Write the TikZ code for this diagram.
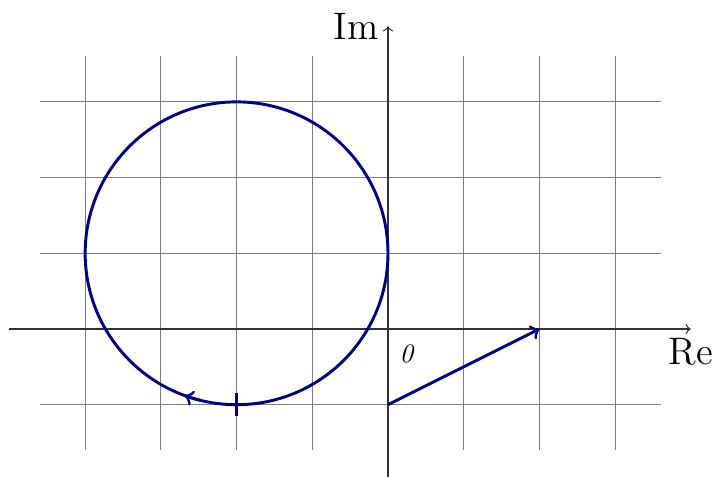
\documentclass[tikz,border=0pt]{standalone}
\usetikzlibrary{arrows}
\definecolor{navyc}{RGB}{0,0,128}
\begin{document}
\begin{tikzpicture}[
  gridline/.style={gray, line width=0.4pt},
  axisline/.style={->, line width=0.5pt, black!80},
  curve/.style={navyc, line width=1.1pt},
  lbl/.style={font=\Large, inner sep=3.33pt, text=black}
]
\useasboundingbox (-5.125,-1.942) rectangle (4.293,4.346);
\draw[gridline] (-4.6,-1.6) grid (3.6,3.6);
\draw[axisline] (-5,0) -- (4,0) node[lbl, below] (re) {Re};
\draw[axisline] (0,-2) -- (0,4) node[lbl, left] (im) {Im};
\node[text=black] (zero) at (0.25,-0.33) {\textit{0}};
% circle
\coordinate (c) at (-2,1);
\draw[curve] (c) circle (2);
\draw[curve, ->] (c) ++(256:2) arc (256:250:2);
% tick at (-2,-1)
\coordinate (t) at (-2,-1);
\draw[curve] ([yshift=-0.15cm]t) -- ([yshift=0.15cm]t);
% vector
\coordinate (a) at (0,-1);
\coordinate (b) at (2,0);
\draw[curve, ->] (a) -- (b);
\end{tikzpicture}
\end{document}
